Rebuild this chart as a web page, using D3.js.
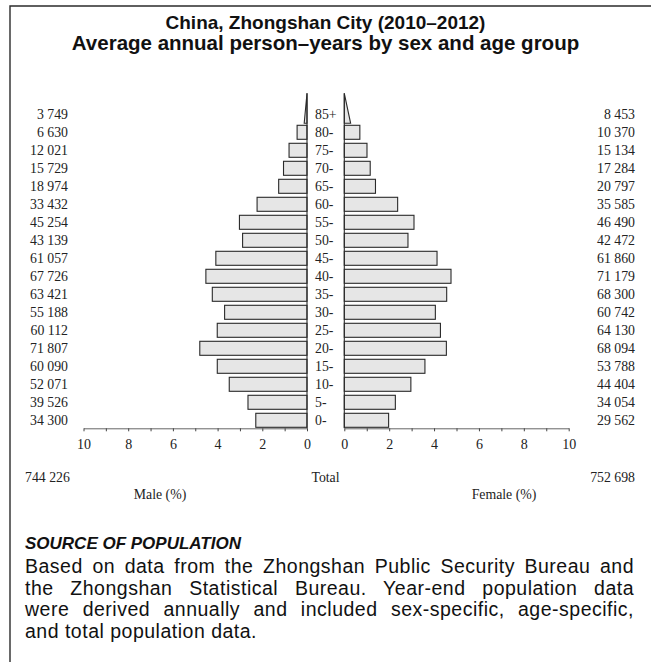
<!DOCTYPE html>
<html>
<head>
<meta charset="utf-8">
<script src="https://cdn.jsdelivr.net/npm/d3@7"></script>
<style>
  html, body { margin: 0; padding: 0; background: #fff; }
  svg { display: block; }
</style>
</head>
<body>
<script>
// Age groups, youngest first
const ageGroups = ["0-", "5-", "10-", "15-", "20-", "25-", "30-", "35-", "40-",
                   "45-", "50-", "55-", "60-", "65-", "70-", "75-", "80-", "85+"];
// Average annual person-years, 2010–2012
const maleCounts   = [34300, 39526, 52071, 60090, 71807, 60112, 55188, 63421, 67726,
                      61057, 43139, 45254, 33432, 18974, 15729, 12021, 6630, 3749];
const femaleCounts = [29562, 34054, 44404, 53788, 68094, 64130, 60742, 68300, 71179,
                      61860, 42472, 46490, 35585, 20797, 17284, 15134, 10370, 8453];
const maleTotal = 744226;
const femaleTotal = 752698;
const axisTicks = [0, 1, 2, 3, 4, 5, 6, 7, 8, 9, 10];

const titleLines = ["China, Zhongshan City (2010\u20132012)",
                    "Average annual person\u2013years by sex and age group"];
const sourceHeading = "SOURCE OF POPULATION";
const sourceLines = [
  "Based on data from the Zhongshan Public Security Bureau and",
  "the Zhongshan Statistical Bureau. Year-end population data",
  "were derived annually and included sex-specific, age-specific,",
  "and total population data."
];

const W = 651, H = 662;
const serif = "'Liberation Serif', 'Times New Roman', serif";
const sans = "'Liberation Sans', Arial, Helvetica, sans-serif";
const fmt = n => d3.format(",")(n).replace(/,/g, " ");

const grand = maleTotal + femaleTotal;
const pct = v => v / grand * 100;

const svg = d3.select("body").append("svg").attr("width", W).attr("height", H);

// frame (top and left rules)
svg.append("path")
  .attr("d", `M10,${H} L10,6 L${W},6`)
  .attr("fill", "none").attr("stroke", "#2b2b2b").attr("stroke-width", 1.4);

// title
const titleSizes = [19, 20.5], titleBase = [29, 50];
svg.append("g").selectAll("text").data(titleLines).join("text")
  .attr("x", 325.5).attr("y", (d, i) => titleBase[i])
  .attr("text-anchor", "middle")
  .attr("font-family", sans).attr("font-weight", "bold")
  .attr("font-size", (d, i) => titleSizes[i])
  .attr("fill", "#111")
  .text(d => d);

// scales
const xMale = d3.scaleLinear().domain([0, 10]).range([307, 83.5]);
const xFemale = d3.scaleLinear().domain([0, 10]).range([344.3, 568.7]);
const y = d3.scaleBand().domain(ageGroups.slice().reverse())
  .range([105.3, 429.3]).paddingInner(4 / 18).paddingOuter(2 / 18);

const barFill = "#e6e6e6", barStroke = "#2a2a2a";
const rows = ageGroups.map((a, i) => ({ age: a, m: maleCounts[i], f: femaleCounts[i] }));
const closed = rows.filter(r => r.age !== "85+");
const open = rows.find(r => r.age === "85+");

// male bars
svg.append("g").selectAll("rect").data(closed).join("rect")
  .attr("x", d => xMale(pct(d.m))).attr("y", d => y(d.age))
  .attr("width", d => xMale(0) - xMale(pct(d.m))).attr("height", y.bandwidth())
  .attr("fill", barFill).attr("stroke", barStroke).attr("stroke-width", 1.1);

// female bars
svg.append("g").selectAll("rect").data(closed).join("rect")
  .attr("x", xFemale(0)).attr("y", d => y(d.age))
  .attr("width", d => xFemale(pct(d.f)) - xFemale(0)).attr("height", y.bandwidth())
  .attr("fill", barFill).attr("stroke", barStroke).attr("stroke-width", 1.1);

// open-ended top group drawn as a wedge
const wedgeTop = y(open.age) - 14, wedgeBot = y(open.age) + y.bandwidth() + 2;
svg.append("polygon")
  .attr("points", [[xMale(0), wedgeTop], [xMale(0), wedgeBot], [xMale(pct(open.m) / 2), wedgeBot]].join(" "))
  .attr("fill", barFill).attr("stroke", barStroke).attr("stroke-width", 1.1);
svg.append("polygon")
  .attr("points", [[xFemale(0), wedgeTop], [xFemale(0), wedgeBot], [xFemale(pct(open.f) / 2), wedgeBot]].join(" "))
  .attr("fill", barFill).attr("stroke", barStroke).attr("stroke-width", 1.1);

// zero lines
const axisY = 428.3;
[xMale(0), xFemale(0)].forEach(x0 => {
  svg.append("line").attr("x1", x0).attr("x2", x0).attr("y1", wedgeTop).attr("y2", axisY)
    .attr("stroke", barStroke).attr("stroke-width", 1.1);
});

// axes
function styleAxis(g) {
  g.selectAll(".domain").attr("stroke", "#666").attr("stroke-width", 1);
  g.selectAll(".tick line").attr("stroke", "#444");
  g.selectAll(".tick text").attr("font-family", serif).attr("font-size", 14)
    .attr("fill", "#222").attr("dy", "0.95em");
}
svg.append("g").attr("transform", `translate(0,${axisY})`)
  .call(d3.axisBottom(xMale).tickValues(axisTicks)
    .tickFormat(d => d % 2 ? "" : d).tickSize(3).tickSizeOuter(0).tickPadding(4))
  .call(styleAxis);
svg.append("g").attr("transform", `translate(0,${axisY})`)
  .call(d3.axisBottom(xFemale).tickValues(axisTicks)
    .tickFormat(d => d % 2 ? "" : d).tickSize(3).tickSizeOuter(0).tickPadding(4))
  .call(styleAxis);

// age labels and counts
const lab = svg.append("g").attr("font-family", serif).attr("font-size", 13.8).attr("fill", "#222");
lab.selectAll(".age").data(rows).join("text").attr("class", "age")
  .attr("x", 315).attr("y", d => y(d.age) + y.bandwidth() / 2).attr("dy", "0.33em")
  .text(d => d.age);
lab.selectAll(".mc").data(rows).join("text").attr("class", "mc")
  .attr("x", 68).attr("y", d => y(d.age) + y.bandwidth() / 2).attr("dy", "0.33em")
  .attr("text-anchor", "end").text(d => fmt(d.m));
lab.selectAll(".fc").data(rows).join("text").attr("class", "fc")
  .attr("x", 635).attr("y", d => y(d.age) + y.bandwidth() / 2).attr("dy", "0.33em")
  .attr("text-anchor", "end").text(d => fmt(d.f));

// totals and axis titles
lab.append("text").attr("x", 25).attr("y", 482).text(fmt(maleTotal));
lab.append("text").attr("x", 325.5).attr("y", 482).attr("text-anchor", "middle").text("Total");
lab.append("text").attr("x", 635).attr("y", 482).attr("text-anchor", "end").text(fmt(femaleTotal));
lab.append("text").attr("x", 160).attr("y", 499).attr("text-anchor", "middle").text("Male (%)");
lab.append("text").attr("x", 504).attr("y", 499).attr("text-anchor", "middle").text("Female (%)");

// source note
svg.append("text").attr("x", 25).attr("y", 549)
  .attr("font-family", sans).attr("font-weight", "bold").attr("font-style", "italic")
  .attr("font-size", 17).attr("fill", "#111").text(sourceHeading);

const left = 25, right = 634;
const body = svg.append("g").attr("font-family", sans).attr("font-size", 19.5)
  .attr("letter-spacing", 0.5).attr("fill", "#111");
sourceLines.forEach((line, i) => {
  const t = body.append("text").attr("x", left).attr("y", 573 + i * 21.7).text(line);
  if (i < sourceLines.length - 1) {
    const natural = t.node().getComputedTextLength();
    const gaps = line.split(" ").length - 1;
    if (gaps > 0) t.attr("word-spacing", (right - left - natural) / gaps);
  }
});
</script>
</body>
</html>
